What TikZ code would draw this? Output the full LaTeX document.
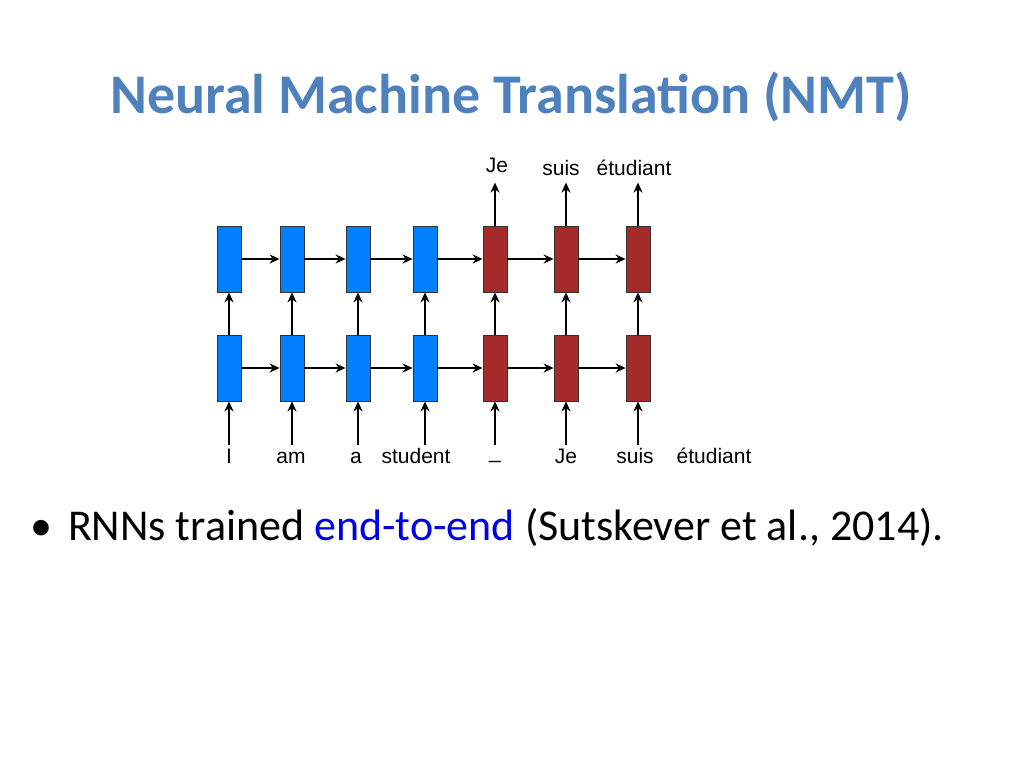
\documentclass[tikz,border=0pt]{standalone}
\usetikzlibrary{arrows.meta,calc}
\usepackage{fontspec}
\setmainfont{Carlito}
\newfontfamily\lab{Liberation Sans}
\begin{document}
\begin{tikzpicture}[x=1pt,y=-1pt,
  enc/.style={draw=black!80,line width=0.8pt,fill={rgb,255:red,0;green,128;blue,255},minimum width=24pt,minimum height=66pt,inner sep=0pt},
  dec/.style={draw=black!80,line width=0.8pt,fill={rgb,255:red,165;green,42;blue,42},minimum width=24pt,minimum height=66pt,inner sep=0pt},
  arr/.style={-{Stealth[length=10pt,width=9pt]},line width=2pt},
  wd/.style={font=\lab\fontsize{21}{24}\selectfont,inner sep=0pt,anchor=base}]
\useasboundingbox (0,0) rectangle (1024,768);
\node[text={rgb,255:red,79;green,129;blue,189},font=\bfseries\fontsize{56}{60}\selectfont] (title) at (511,97) {Neural Machine Translation (NMT)};
\foreach \i/\x/\s in {1/229/enc,2/292/enc,3/358/enc,4/425/enc,5/495/dec,6/566/dec,7/638/dec}{
  \node[\s] (t\i) at (\x,259) {};
  \node[\s] (b\i) at (\x,368) {};
  \coordinate (in\i) at (\x,445);
  \draw[arr] (in\i) -- (b\i.south);
  \draw[arr] (b\i.north) -- (t\i.south);
}
\foreach \i/\j in {1/2,2/3,3/4,4/5,5/6,6/7}{
  \draw[arr] (t\i.east) -- (t\j.west);
  \draw[arr] (b\i.east) -- (b\j.west);
}
\foreach \i in {5,6,7}{ \coordinate (out\i) at ($(t\i.north)+(0,-43)$); \draw[arr] (t\i.north) -- (out\i); }
\node[wd] (o5) at (497,172) {Je};
\node[wd] (o6) at (561,175) {suis};
\node[wd] (o7) at (634,175) {étudiant};
\node[wd] (w1) at (229,463) {I};
\node[wd] (w2) at (291,463) {am};
\node[wd] (w3) at (356,463) {a};
\node[wd] (w4) at (416,463) {student};
\node[wd] (w5) at (495,458) {\_};
\node[wd] (w6) at (566,463) {Je};
\node[wd] (w7) at (635,463) {suis};
\node[wd] (w8) at (714,463) {étudiant};
\node[anchor=base west,font=\fontsize{44}{48}\selectfont,inner sep=0pt] (bul) at (30,540) {•\hspace{16pt}RNNs trained \textcolor[RGB]{0,0,230}{end-to-end} (Sutskever et al., 2014).};
\end{tikzpicture}
\end{document}
